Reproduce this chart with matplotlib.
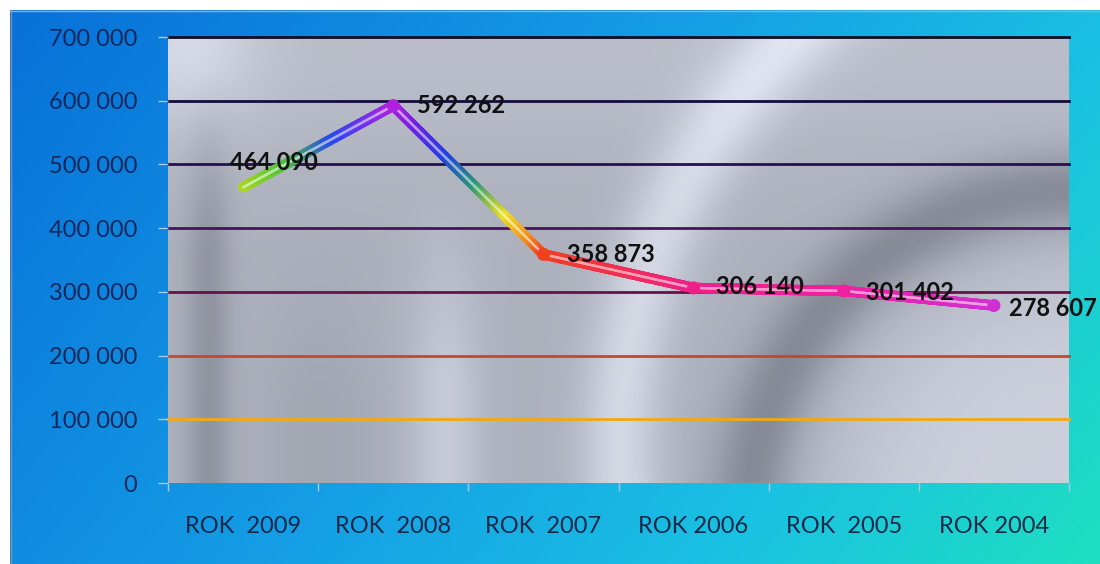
import numpy as np
import matplotlib
matplotlib.use("Agg")
import matplotlib.pyplot as plt
from matplotlib.collections import LineCollection
from matplotlib.colors import LinearSegmentedColormap

plt.rcParams["font.family"] = ["Lato", "DejaVu Sans"]

# data
years = ["ROK  2009", "ROK  2008", "ROK  2007", "ROK 2006", "ROK  2005", "ROK 2004"]
values = [464090, 592262, 358873, 306140, 301402, 278607]
value_labels = ["464 090", "592 262", "358 873", "306 140", "301 402", "278 607"]
y_ticks = [0, 100000, 200000, 300000, 400000, 500000, 600000, 700000]
y_tick_labels = ["0", "100 000", "200 000", "300 000", "400 000", "500 000", "600 000", "700 000"]

W, H = 1100, 564
fig = plt.figure(figsize=(W / 100, H / 100), dpi=100, facecolor="white")

# outer blue panel
bg = fig.add_axes([0, 0, 1, 1])
bg.set_xlim(0, W)
bg.set_ylim(H, 0)
bg.axis("off")
u = np.linspace(0, 1, 400)[None, :]
v = np.linspace(0, 1, 200)[:, None]
s = np.clip(0.72 * u + 0.28 * v, 0, 1)
stops = [(0.0, "#0870d8"), (0.45, "#159ee6"), (0.75, "#1ac2e2"), (1.0, "#1edfc0")]
blue_cmap = LinearSegmentedColormap.from_list("panel", stops)
bg.imshow(blue_cmap(s), extent=[10, W, H, 10], aspect="auto", interpolation="bilinear")
bg.plot([10.5, 10.5], [10, H], color="#7f8fa8", lw=1)
bg.plot([10, W], [10.5, 10.5], color="#8fb0c8", lw=1)

# plot area
L, T, R, B = 168, 37, 1069, 483
ax = fig.add_axes([L / W, (H - B) / H, (R - L) / W, (B - T) / H])
ax.set_xlim(-0.5, len(years) - 0.5)
ax.set_ylim(0, 700000)

# brushed metal texture
X, Y = np.meshgrid(np.linspace(L, R, 600), np.linspace(T, B, 300))
g = np.full(X.shape, 0.71)
g += 0.11 * np.exp(-(((X - 185) / 70) ** 2 + ((Y - 40) / 90) ** 2))
g += 0.05 * np.exp(-((Y - 45) / 110) ** 2)
g -= 0.11 * np.exp(-((X - 208) / 22) ** 2) * np.clip((Y - 70) / 180, 0, 1)
g -= 0.04 * np.exp(-((X - 320) / 60) ** 2) * np.clip((Y - 200) / 200, 0, 1)
g += 0.10 * np.exp(-((X - 445) / 35) ** 2) * np.clip((Y - 180) / 200, 0, 1)
r1 = np.hypot(X - 1200, Y - 450)
g += 0.15 * np.exp(-((r1 - 580) / 40) ** 2)
r2 = np.hypot(X - 1080, Y - 520)
g -= 0.16 * np.exp(-((r2 - 330) / 40) ** 2)
g += 0.12 / (1 + np.exp((r2 - 240) / 35))
g = np.clip(g, 0, 1)
tex = np.dstack([g - 0.03, g - 0.015, g + 0.03])
ax.imshow(np.clip(tex, 0, 1), extent=[0, 1, 0, 1], transform=ax.transAxes,
          aspect="auto", zorder=0, interpolation="bilinear")

grid_colors = ["#f2a814", "#c8462a", "#6a1046", "#4a1060", "#2a0e50", "#140c3c", "#0c0c24"]
for yv, c in zip(y_ticks[1:], grid_colors):
    ax.axhline(yv, color=c, lw=2.0, zorder=1, clip_on=False)

for sp in ax.spines.values():
    sp.set_visible(False)

# rainbow tube line
idx = np.arange(len(values))
t = np.linspace(0, len(values) - 1, 1001)
yt = np.interp(t, idx, values)
pts = np.column_stack([t, yt])
segs = np.stack([pts[:-1], pts[1:]], axis=1)
tmid = (t[:-1] + t[1:]) / 2 / (len(values) - 1)
rain = LinearSegmentedColormap.from_list("rain", [
    (0.00, "#a8d820"), (0.06, "#48c040"), (0.12, "#2848f0"), (0.20, "#b020e0"),
    (0.23, "#7020e0"), (0.27, "#2040e0"), (0.31, "#2a9a70"), (0.35, "#f0e020"),
    (0.38, "#f09020"), (0.40, "#f04020"), (0.50, "#f03050"), (0.60, "#f0208a"),
    (0.80, "#f020a0"), (1.00, "#d030d0")])
cols = rain(tmid)
light = cols.copy()
light[:, :3] = 0.45 * cols[:, :3] + 0.55
ax.add_collection(LineCollection(segs, colors=cols, linewidths=7.5, capstyle="round", zorder=3))
ax.add_collection(LineCollection(segs, colors=light, linewidths=1.8, capstyle="round", zorder=4, alpha=0.8))
mk = rain(idx[1:] / (len(values) - 1))
ax.scatter(idx[1:], values[1:], s=70, color=mk, zorder=5, edgecolors=mk, linewidths=1)

# data labels
offsets = [(22, 18, "center"), (17, 0, "left"), (17, 0, "left"),
           (16, 1, "left"), (16, -1, "left"), (11, -2, "left")]
for i, (lab, (dx, dy, ha)) in enumerate(zip(value_labels, offsets)):
    ax.annotate(lab, (idx[i], values[i]), xytext=(dx, dy), textcoords="offset points",
                ha=ha, va="center", fontsize=17, fontweight="bold", color="#111111",
                zorder=6, annotation_clip=False)

ax.set_yticks(y_ticks)
ax.set_yticklabels(y_tick_labels)
ax.set_xticks(idx)
ax.set_xticklabels(years)
ax.set_xticks(np.arange(-0.5, len(years)), minor=True)
ax.tick_params(axis="y", length=7, width=1, color="#a8c8e8", pad=15,
               labelsize=17, labelcolor="#10285a")
ax.tick_params(axis="x", which="major", length=0, pad=24, labelsize=17, labelcolor="#14284a")
ax.tick_params(axis="x", which="minor", length=6, width=1, color="#a8c8e8")

fig.savefig("out.png", dpi=100, facecolor="white")
